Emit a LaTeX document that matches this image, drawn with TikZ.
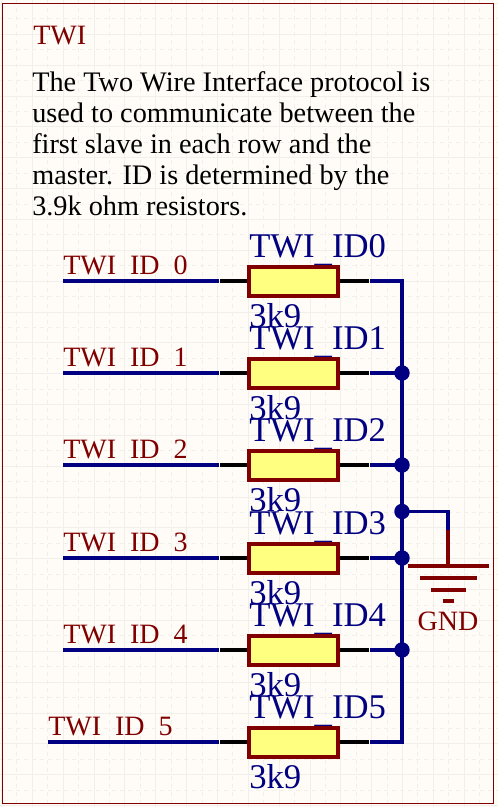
\documentclass[tikz,border=0pt]{standalone}
\usepackage{fontspec}
\setmainfont{Liberation Serif}

\definecolor{sheetbg}{HTML}{FFFCF8}
\definecolor{gridcol}{HTML}{F0EFEA}
\definecolor{netblue}{HTML}{000080}
\definecolor{partred}{HTML}{800000}
\definecolor{resfill}{HTML}{FFFF80}

\newcommand{\lowbar}[1]{\raisebox{-#1}{\_}}

\tikzset{
    wire/.style={netblue, line width=2.4pt},
    pinline/.style={black, line width=2.4pt},
    gndline/.style={partred, line width=2.4pt},
    resbox/.style={draw=partred, fill=resfill, line width=3pt, minimum width=66.75pt, minimum height=21.75pt, inner sep=0pt},
    junc/.style={circle, fill=netblue, minimum size=11.6pt, inner sep=0pt},
    netlabel/.style={text=partred, anchor=base west, inner sep=0pt, font=\fontsize{21}{23}\selectfont},
    partlabel/.style={text=netblue, anchor=base west, inner sep=0pt, font=\fontsize{26}{28}\selectfont},
}

\begin{document}
\begin{tikzpicture}[x=0.75pt, y=-0.75pt]
    \useasboundingbox (0,0) rectangle (498,807);
    \fill[sheetbg] (0,0) rectangle (498,807);

    % Sheet grid
    \foreach \k in {0,...,15} {
        \draw[gridcol, line width=0.75pt] ({1.5+30.85*\k},0) -- ({1.5+30.85*\k},807);
        \draw[gridcol, line width=0.75pt, dashed] ({16.9+30.85*\k},0) -- ({16.9+30.85*\k},807);
    }
    \foreach \k in {0,...,26} {
        \draw[gridcol, line width=0.75pt] (0,{3.5+30.85*\k}) -- (498,{3.5+30.85*\k});
        \draw[gridcol, line width=0.75pt, dashed] (0,{18.9+30.85*\k}) -- (498,{18.9+30.85*\k});
    }
    \draw[partred, line width=0.75pt] (2.5,3.5) rectangle (493.5,803);

    % Note
    \node[netlabel] (title) at (33,44) {TWI};
    \node[anchor=north west, inner sep=0pt, align=left, font=\fontsize{21.2}{23.25}\selectfont] (note) at (32,71)
        {The Two Wire Interface protocol is\\
         used to communicate between the\\
         first slave in each row and the\\
         master. ID is determined by the\\
         3.9k ohm resistors.};

    % Rows
    \foreach \row/\ypos/\xstart in {0/281/63, 1/373/63, 2/465/63, 3/558/63, 4/650/63, 5/742/48} {
        \node[netlabel] (net\row) at (\xstart,\ypos-7) {TWI\lowbar{2.6pt}ID\lowbar{2.6pt}\row};
        \node[partlabel] (val\row) at (249,\ypos+46) {3k9};
        \node[partlabel] (des\row) at (249,\ypos-24) {TWI\lowbar{3.4pt}ID\row};
        \coordinate (start\row) at (\xstart,\ypos);
        \coordinate (pinl\row) at (219,\ypos);
        \coordinate (pinr\row) at (369,\ypos);
        \coordinate (tail\row) at (370,\ypos);
        \coordinate (bus\row) at (402,\ypos);
        \draw[wire] (start\row) -- (pinl\row);
        \node[resbox] (res\row) at (293.5,\ypos) {};
        \draw[pinline] (pinl\row) ++(1,0) -- (res\row.west);
        \draw[pinline] (res\row.east) -- (pinr\row);
    }

    % Bus
    \draw[wire] (tail0) -- (bus0) -- (bus5) -- (tail5);
    \foreach \row in {1,...,4} {
        \draw[wire] (tail\row) -- (bus\row);
        \node[junc] (junc\row) at (bus\row) {};
    }

    % Ground
    \node[junc] (juncg) at (402,511.5) {};
    \coordinate (gndpin) at (448,530);
    \coordinate (gndbar) at (448,566);
    \draw[wire] (juncg.center) -| (gndpin);
    \draw[gndline] (gndpin) -- (gndbar);
    \foreach \halfw/\ypos in {40.5/566, 28.5/578, 17.5/590, 5.5/601} {
        \draw[gndline] ({448-\halfw},\ypos) -- ({448+\halfw},\ypos);
    }
    \node[text=partred, inner sep=0pt, font=\fontsize{21}{23}\selectfont, anchor=base] (gndtext) at (448,630) {GND};
\end{tikzpicture}
\end{document}
